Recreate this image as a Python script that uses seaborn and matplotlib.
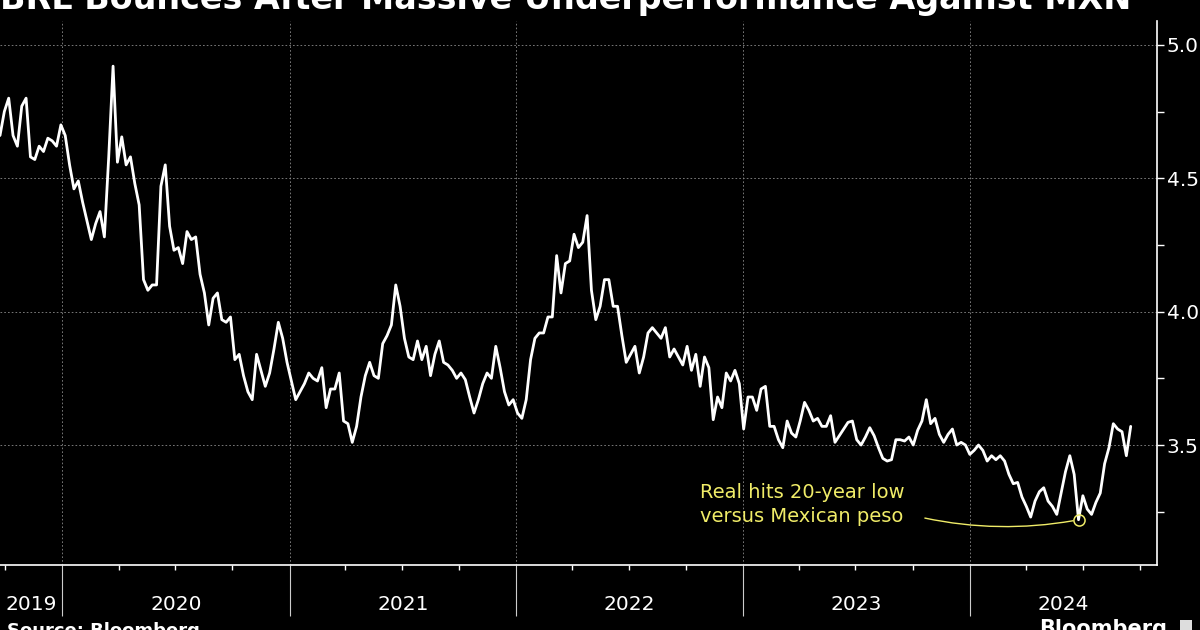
import numpy as np
import pandas as pd
import matplotlib.pyplot as plt
import matplotlib.dates as mdates
from matplotlib.ticker import MultipleLocator
from matplotlib.transforms import blended_transform_factory
from matplotlib.patches import Rectangle
import seaborn as sns

"""
DATOS (BRL por MXN, semanal, leido del grafico)
"""
inicio = "2019-09-23"
valores = [
    4.66, 4.75, 4.80, 4.66, 4.62, 4.77, 4.80, 4.58, 4.57, 4.62,
    4.60, 4.65, 4.64, 4.62, 4.70, 4.66, 4.55, 4.46, 4.49, 4.41,
    4.34, 4.27, 4.33, 4.375, 4.28, 4.58, 4.92, 4.56, 4.655, 4.55,
    4.58, 4.48, 4.40, 4.12, 4.08, 4.10, 4.10, 4.47, 4.55, 4.32,
    4.23, 4.24, 4.18, 4.30, 4.27, 4.28, 4.14, 4.07, 3.95, 4.05,
    4.07, 3.97, 3.96, 3.98, 3.82, 3.84, 3.76, 3.70, 3.67, 3.84,
    3.78, 3.72, 3.77, 3.86, 3.96, 3.90, 3.81, 3.74, 3.67, 3.70,
    3.73, 3.77, 3.75, 3.74, 3.79, 3.64, 3.71, 3.71, 3.77, 3.59,
    3.58, 3.51, 3.57, 3.68, 3.76, 3.81, 3.76, 3.75, 3.88, 3.91,
    3.95, 4.10, 4.02, 3.90, 3.83, 3.82, 3.89, 3.82, 3.87, 3.76,
    3.84, 3.89, 3.81, 3.80, 3.78, 3.75, 3.77, 3.745, 3.68, 3.62,
    3.67, 3.73, 3.77, 3.75, 3.87, 3.79, 3.70, 3.65, 3.67, 3.62,
    3.60, 3.67, 3.82, 3.90, 3.92, 3.92, 3.98, 3.98, 4.21, 4.07,
    4.18, 4.19, 4.29, 4.24, 4.26, 4.36, 4.08, 3.97, 4.02, 4.12,
    4.12, 4.02, 4.02, 3.91, 3.81, 3.84, 3.87, 3.77, 3.83, 3.92,
    3.94, 3.92, 3.90, 3.94, 3.83, 3.86, 3.83, 3.80, 3.87, 3.78,
    3.84, 3.72, 3.83, 3.79, 3.595, 3.68, 3.64, 3.77, 3.74, 3.78,
    3.73, 3.56, 3.68, 3.68, 3.63, 3.71, 3.72, 3.57, 3.57, 3.52,
    3.49, 3.59, 3.545, 3.53, 3.59, 3.66, 3.63, 3.59, 3.60, 3.57,
    3.57, 3.61, 3.51, 3.535, 3.56, 3.585, 3.59, 3.52, 3.50, 3.53,
    3.565, 3.535, 3.49, 3.45, 3.44, 3.445, 3.52, 3.52, 3.515, 3.53,
    3.50, 3.555, 3.59, 3.67, 3.58, 3.60, 3.54, 3.51, 3.54, 3.56,
    3.50, 3.51, 3.50, 3.465, 3.48, 3.50, 3.48, 3.44, 3.46, 3.445,
    3.46, 3.44, 3.39, 3.355, 3.36, 3.305, 3.27, 3.23, 3.29, 3.325,
    3.34, 3.29, 3.27, 3.24, 3.32, 3.40, 3.46, 3.39, 3.22, 3.31,
    3.26, 3.24, 3.285, 3.32, 3.43, 3.49, 3.58, 3.56, 3.55, 3.46, 3.57,
]
anios = [2019, 2020, 2021, 2022, 2023, 2024]
yticks = [3.5, 4.0, 4.5, 5.0]
titulo = "BRL Bounces After Massive Underperformance Against MXN"
fuente = "Source: Bloomberg"
nota = "Real hits 20-year low\nversus Mexican peso"

fechas = pd.date_range(inicio, periods=len(valores), freq="7D")
df = pd.DataFrame({"fecha": fechas, "brl_mxn": valores})

x_ini = pd.Timestamp("2019-09-23")
x_fin = pd.Timestamp("2024-10-28")
amarillo = "#f0ec68"

"""
GRAFICO
"""
sns.set_theme(style="dark", rc={"axes.facecolor": "black",
                                "figure.facecolor": "black"})
plt.rcParams["font.family"] = ["DejaVu Sans"]

fig = plt.figure(figsize=(12, 6.3), dpi=100)
ax = fig.add_axes([0.0, 0.103, 0.964, 0.864])
ax.set_facecolor("black")

sns.lineplot(data=df, x="fecha", y="brl_mxn", ax=ax, color="white", lw=2.0)

ax.set_xlim(x_ini, x_fin)
ax.set_ylim(3.05, 5.09)
ax.set_xlabel("")
ax.set_ylabel("")

# ejes
for lado in ["top", "left"]:
    ax.spines[lado].set_visible(False)
for lado in ["bottom", "right"]:
    ax.spines[lado].set_visible(True)
    ax.spines[lado].set_color("white")
    ax.spines[lado].set_linewidth(1.2)

# eje y a la derecha
ax.yaxis.tick_right()
ax.set_yticks(yticks)
ax.set_yticklabels([f"{v:.1f}" for v in yticks])
ax.yaxis.set_minor_locator(MultipleLocator(0.25))
ax.tick_params(axis="y", which="both", direction="out", length=5, width=1,
               color="white", labelcolor="white", labelsize=14.5, pad=2,
               right=True, left=False)

# eje x: años y trimestres
ax.xaxis.set_major_locator(mdates.YearLocator())
ax.xaxis.set_minor_locator(mdates.MonthLocator([1, 4, 7, 10]))
ax.tick_params(axis="x", which="major", direction="out", length=37, width=0.8,
               color="#cccccc", labelbottom=False, bottom=True)
ax.tick_params(axis="x", which="minor", direction="out", length=3.5, width=1,
               color="white", bottom=True)

ax.grid(True, axis="both", which="major", color="#8a8a8a",
        linestyle=(0, (2, 2.5)), linewidth=0.6)

# etiquetas de años centradas en cada tramo visible
trans = blended_transform_factory(ax.transData, ax.transAxes)
for a in anios:
    izq = max(pd.Timestamp(f"{a}-01-01"), x_ini)
    der = min(pd.Timestamp(f"{a + 1}-01-01"), x_fin)
    medio = izq + (der - izq) / 2
    ax.text(medio, -0.072, str(a), transform=trans, ha="center", va="center",
            color="white", fontsize=14.5)

# anotacion del minimo
i_min = df["brl_mxn"].idxmin()
x_min, y_min = df["fecha"][i_min], df["brl_mxn"][i_min]
ax.plot([x_min], [y_min], "o", mfc="none", mec=amarillo, ms=8, mew=1.1)
ax.text(0.605, 0.111, nota, transform=ax.transAxes, ha="left", va="center",
        color=amarillo, fontsize=14, linespacing=1.3)
ax.annotate("", xy=(x_min, y_min), xytext=(0.7995, 0.0864),
            textcoords="axes fraction",
            arrowprops=dict(arrowstyle="-", color=amarillo, lw=1,
                            connectionstyle="arc3,rad=0.1",
                            shrinkA=0, shrinkB=4))

# textos de la figura (recortados en los bordes como en el original)
fig.text(0.0, 1 - 9 / 630, titulo, ha="left", va="baseline", color="white",
         fontsize=24, fontweight="bold")
fig.text(0.006, 1 - 622 / 630, fuente, ha="left", va="top", color="white",
         fontsize=13, fontweight="bold")
fig.text(1167 / 1200, 1 - 619 / 630, "Bloomberg", ha="right", va="top",
         color="white", fontsize=15, fontweight="bold")
fig.patches.append(Rectangle((1180 / 1200, 0.0), 12 / 1200, 10 / 630,
                             transform=fig.transFigure, facecolor="#dddddd",
                             edgecolor="none"))

plt.savefig("out.png", dpi=100, facecolor="black")
